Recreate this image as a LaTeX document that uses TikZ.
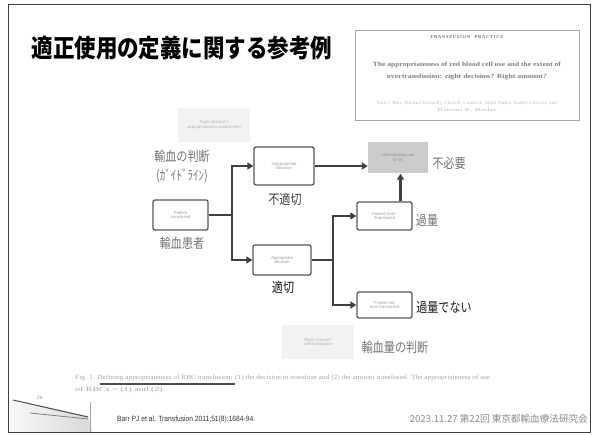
\documentclass[tikz,border=0pt]{standalone}
\usepackage{fontspec}
\usepackage{graphicx}
\setmainfont{Liberation Sans}
\newfontfamily\jp{Noto Sans CJK JP}
\newfontfamily\serifen{Liberation Serif}
\usetikzlibrary{arrows.meta}
\newcommand{\cnd}[2][0.82]{\scalebox{#1}[1]{#2}}
\begin{document}
\begin{tikzpicture}[x=1pt,y=-1pt,
  fbox/.style={draw=black!65, line width=1.3pt, rounded corners=2pt, align=center,
    text=black!40, font=\fontsize{4.2}{4.8}\selectfont, inner sep=1pt},
  fadebox/.style={fill=black!5, draw=none, align=center, text=black!30,
    font=\fontsize{4.2}{4.8}\selectfont, inner sep=1pt},
  lab/.style={font=\jp\fontsize{13.5}{15}\selectfont, text=black!55, inner sep=0pt},
  labk/.style={lab, text=black!90},
  conn/.style={line width=2.8pt, draw=black!75},
  arr/.style={conn, -{Triangle[length=6pt,width=7pt]}},
  small/.style={inner sep=0pt, text=black!45}
]
\useasboundingbox (0,0) rectangle (598,435);
\fill[white] (0,0) rectangle (598,435);
% slide frame
\draw[black!75, line width=0.8pt] (8.5,4.5) rectangle (590.5,432);

% title
\node[inner sep=0pt, font=\jp\bfseries\fontsize{25}{27}\selectfont] (title) at (182,48)
  {\cnd[0.86]{適正使用の定義に関する参考例}};

% paper excerpt box
\node[draw=black!35, line width=0.8pt, minimum width=224pt, minimum height=90pt, inner sep=0pt] (paper) at (467,75) {};
\node[small, text=black!55, font=\serifen\bfseries\fontsize{4.5}{5}\selectfont] (ph) at (467,37)
  {T\,R\,A\,N\,S\,F\,U\,S\,I\,O\,N\quad P\,R\,A\,C\,T\,I\,C\,E};
\node[small, text=black!50, font=\serifen\bfseries] (pt1) at (467,65)
  {\resizebox{188pt}{4.5pt}{The appropriateness of red blood cell use and the extent of}};
\node[small, text=black!50, font=\serifen\bfseries] (pt2) at (467,77)
  {\resizebox{160pt}{4.5pt}{overtransfusion: right decision? Right amount?}};
\node[small, text=black!25, font=\serifen] (pa1) at (467,103)
  {\resizebox{180pt}{3.2pt}{Paul J. Barr, Michael Donnelly, Chris R. Cardwell, Mark Parker, Kathryn Morris, and}};
\node[small, text=black!25, font=\serifen] (pa2) at (467,110)
  {\resizebox{60pt}{3.2pt}{Kieran E. Bailie}};

% faded boxes
\node[fadebox, minimum width=72pt, minimum height=34pt] (top) at (214,125)
  {Right decision?\\appropriateness assessment};
\node[fadebox, minimum width=72pt, minimum height=34pt] (bottom) at (318,342)
  {Right amount?\\overtransfusion};

% flowchart boxes
\node[fbox, minimum width=55pt, minimum height=30pt] (patient) at (180.5,215) {Patient\\transfused};
\node[fbox, minimum width=60pt, minimum height=38pt] (inapp) at (284,166) {Inappropriate\\decision};
\node[fbox, minimum width=58pt, minimum height=30pt] (app) at (282,260) {Appropriate\\decision};
\node[fadebox, fill=black!20, text=black!45, minimum width=60pt, minimum height=31pt] (unnec) at (398,158)
  {Unnecessary use\\(1+2)};
\node[fbox, minimum width=55pt, minimum height=28pt] (over) at (384.5,216) {Patient Over-\\Transfused};
\node[fbox, minimum width=55pt, minimum height=26pt] (notover) at (384.5,305) {Patient not\\over-transfused};

% junctions
\coordinate (j1) at (232,215);
\coordinate (j2) at (333,260);

% connectors
\draw[conn] (patient.east) -- (j1);
\draw[arr] (j1) |- (inapp.west);
\draw[arr] (j1) |- (app.west);
\draw[arr] (inapp.east) -- (inapp.east -| unnec.west);
\draw[conn] (app.east) -- (j2);
\draw[arr] (j2) |- (over.west);
\draw[arr] (j2) |- (notover.west);
\draw[arr] ([xshift=16pt]over.north) -- ([xshift=16pt]over.north |- unnec.south);

% labels
\node[lab] (l1) at (182,156) {\cnd{輸血の判断}};
\node[lab] (l2) at (182,176) {\cnd{(ｶﾞｲﾄﾞﾗｲﾝ)}};
\node[lab] (l3) at (182,243) {\cnd{輸血患者}};
\node[labk, text=black!75] (l4) at (285,199) {\cnd{不適切}};
\node[labk] (l5) at (283,287) {\cnd{適切}};
\node[lab] (l6) at (449,163) {\cnd{不必要}};
\node[lab] (l7) at (427,220) {\cnd{過量}};
\node[labk] (l8) at (444,307) {\cnd{過量でない}};
\node[lab] (l9) at (395,347) {\cnd{輸血量の判断}};

% caption
\node[small, text=black!35, font=\serifen, anchor=west] (cap1) at (75,378)
  {\resizebox{415pt}{4.5pt}{Fig. 1. Defining appropriateness of RBC transfusion: (1) the decision to transfuse and (2) the amount transfused. The appropriateness of use}};
\node[small, text=black!35, font=\serifen, anchor=west] (cap2) at (75,390)
  {\resizebox{90pt}{4.5pt}{of RBCs = (1) and (2).}};
\draw[black!70, line width=1.5pt] (100,384) -- (235,384);

% page curl decoration
\shade[left color=black!3, right color=black!15] (10,400) -- (88,416) -- (92,432) -- (10,432) -- cycle;
\draw[black!70, line width=1pt] (13,400) -- (88,417);
\draw[black!50, line width=0.8pt] (30,413) -- (88,419);
\draw[black!35, line width=0.6pt] (90,402) -- (90,432);
\node[small, text=black!40, font=\fontsize{5}{6}\selectfont] (pnum) at (40,398) {26};

% footer
\node[small, text=black!80, anchor=west] (ref) at (117,420)
  {\resizebox{138pt}{5.5pt}{Barr PJ et al. Transfusion 2011;51(8):1684-94.}};
\node[small, text=black!45, anchor=east, font=\jp] (date) at (588,419)
  {\resizebox{178pt}{!}{2023.11.27 第22回 東京都輸血療法研究会}};
\end{tikzpicture}
\end{document}
